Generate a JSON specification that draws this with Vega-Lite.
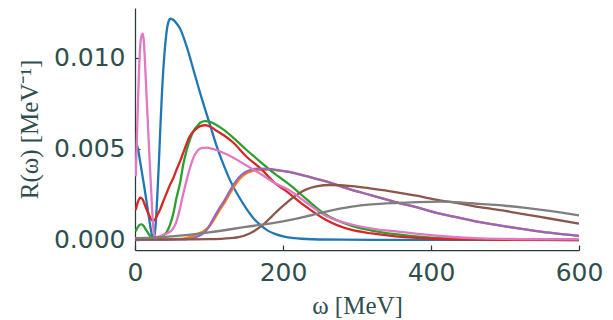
{
 "$schema": "https://vega.github.io/schema/vega-lite/v6.json",
 "width": 444, "height": 242,
 "autosize": "none",
 "padding": {"left": 135, "top": 8, "right": 34, "bottom": 70},
 "config": {"view": {"stroke": null}, "background": "white"},
 "data": {"values": [
  {"s":"a","w":2,"r":0.0053},{"s":"a","w":4,"r":0.0050},{"s":"a","w":7,"r":0.0043},{"s":"a","w":10,"r":0.00355},{"s":"a","w":13,"r":0.0028},{"s":"a","w":16,"r":0.0020},{"s":"a","w":19,"r":0.0012},{"s":"a","w":22,"r":0.00045},{"s":"a","w":24,"r":0.00012},{"s":"a","w":26,"r":0.0002},{"s":"a","w":28,"r":0.0009},{"s":"a","w":30,"r":0.0023},{"s":"a","w":32,"r":0.0040},{"s":"a","w":34,"r":0.0059},{"s":"a","w":36,"r":0.0077},{"s":"a","w":39,"r":0.0098},{"s":"a","w":42,"r":0.0112},{"s":"a","w":45,"r":0.01195},{"s":"a","w":48,"r":0.01215},{"s":"a","w":52,"r":0.01208},{"s":"a","w":56,"r":0.0119},{"s":"a","w":61,"r":0.0116},{"s":"a","w":70,"r":0.0106},{"s":"a","w":80,"r":0.0092},{"s":"a","w":90,"r":0.0078},{"s":"a","w":100,"r":0.0065},{"s":"a","w":110,"r":0.0052},{"s":"a","w":120,"r":0.0041},{"s":"a","w":130,"r":0.00315},{"s":"a","w":140,"r":0.0024},{"s":"a","w":150,"r":0.00175},{"s":"a","w":160,"r":0.0012},{"s":"a","w":170,"r":0.0008},{"s":"a","w":180,"r":0.0005},{"s":"a","w":190,"r":0.00032},{"s":"a","w":200,"r":0.0002},{"s":"a","w":215,"r":0.0001},{"s":"a","w":240,"r":0.00004},{"s":"a","w":280,"r":0.000015},{"s":"a","w":350,"r":0.000005},{"s":"a","w":600,"r":0},
  {"s":"b","w":0,"r":0.00002},{"s":"b","w":40,"r":0.00003},{"s":"b","w":60,"r":0.00006},{"s":"b","w":70,"r":0.00012},{"s":"b","w":80,"r":0.00024},{"s":"b","w":90,"r":0.00042},{"s":"b","w":100,"r":0.00072},{"s":"b","w":108,"r":0.0012},{"s":"b","w":115,"r":0.00168},{"s":"b","w":122,"r":0.00212},{"s":"b","w":128,"r":0.00255},{"s":"b","w":135,"r":0.003},{"s":"b","w":142,"r":0.00338},{"s":"b","w":149,"r":0.00362},{"s":"b","w":158,"r":0.00378},{"s":"b","w":167,"r":0.00384},{"s":"b","w":180,"r":0.00386},{"s":"b","w":195,"r":0.00381},{"s":"b","w":210,"r":0.00373},{"s":"b","w":230,"r":0.00352},{"s":"b","w":257,"r":0.00323},{"s":"b","w":293,"r":0.00275},{"s":"b","w":320,"r":0.00245},{"s":"b","w":352,"r":0.00208},{"s":"b","w":380,"r":0.0018},{"s":"b","w":412,"r":0.00145},{"s":"b","w":440,"r":0.0012},{"s":"b","w":466,"r":0.00098},{"s":"b","w":500,"r":0.00075},{"s":"b","w":525,"r":0.0006},{"s":"b","w":560,"r":0.0004},{"s":"b","w":600,"r":0.00022},
  {"s":"c","w":1,"r":0.00048},{"s":"c","w":4,"r":0.00072},{"s":"c","w":7,"r":0.00085},{"s":"c","w":9,"r":0.00086},{"s":"c","w":12,"r":0.00075},{"s":"c","w":15,"r":0.00055},{"s":"c","w":19,"r":0.0003},{"s":"c","w":23,"r":0.00012},{"s":"c","w":27,"r":0.00005},{"s":"c","w":31,"r":0.00006},{"s":"c","w":35,"r":0.00012},{"s":"c","w":39,"r":0.00025},{"s":"c","w":43,"r":0.00045},{"s":"c","w":47,"r":0.0008},{"s":"c","w":52,"r":0.0015},{"s":"c","w":56,"r":0.0023},{"s":"c","w":61,"r":0.00315},{"s":"c","w":65,"r":0.0041},{"s":"c","w":70,"r":0.00497},{"s":"c","w":75,"r":0.0056},{"s":"c","w":79,"r":0.00598},{"s":"c","w":84,"r":0.00625},{"s":"c","w":88,"r":0.00644},{"s":"c","w":95,"r":0.00653},{"s":"c","w":102,"r":0.00648},{"s":"c","w":110,"r":0.00632},{"s":"c","w":120,"r":0.00605},{"s":"c","w":133,"r":0.00561},{"s":"c","w":150,"r":0.00497},{"s":"c","w":171,"r":0.00424},{"s":"c","w":190,"r":0.0036},{"s":"c","w":203,"r":0.00322},{"s":"c","w":210,"r":0.003},{"s":"c","w":230,"r":0.0023},{"s":"c","w":257,"r":0.00141},{"s":"c","w":293,"r":0.00078},{"s":"c","w":320,"r":0.00052},{"s":"c","w":352,"r":0.00032},{"s":"c","w":400,"r":0.00013},{"s":"c","w":450,"r":0.00005},{"s":"c","w":500,"r":0.00002},{"s":"c","w":600,"r":0.00001},
  {"s":"d","w":1,"r":0.00165},{"s":"d","w":4,"r":0.0021},{"s":"d","w":7,"r":0.00232},{"s":"d","w":10,"r":0.00225},{"s":"d","w":14,"r":0.00185},{"s":"d","w":18,"r":0.00145},{"s":"d","w":21,"r":0.0012},{"s":"d","w":24,"r":0.00105},{"s":"d","w":27,"r":0.00112},{"s":"d","w":30,"r":0.00135},{"s":"d","w":34,"r":0.00168},{"s":"d","w":38,"r":0.0021},{"s":"d","w":43,"r":0.0026},{"s":"d","w":47,"r":0.003},{"s":"d","w":52,"r":0.00342},{"s":"d","w":56,"r":0.00385},{"s":"d","w":61,"r":0.00433},{"s":"d","w":68,"r":0.0051},{"s":"d","w":74,"r":0.0057},{"s":"d","w":80,"r":0.006},{"s":"d","w":88,"r":0.00625},{"s":"d","w":95,"r":0.0063},{"s":"d","w":102,"r":0.00622},{"s":"d","w":110,"r":0.006},{"s":"d","w":120,"r":0.00575},{"s":"d","w":133,"r":0.00534},{"s":"d","w":150,"r":0.0046},{"s":"d","w":171,"r":0.00388},{"s":"d","w":190,"r":0.0031},{"s":"d","w":203,"r":0.00272},{"s":"d","w":210,"r":0.0025},{"s":"d","w":230,"r":0.00186},{"s":"d","w":257,"r":0.00113},{"s":"d","w":293,"r":0.00055},{"s":"d","w":320,"r":0.00036},{"s":"d","w":352,"r":0.0002},{"s":"d","w":400,"r":0.00008},{"s":"d","w":450,"r":0.00003},{"s":"d","w":500,"r":0.00001},{"s":"d","w":600,"r":0},
  {"s":"e","w":0,"r":0.00001},{"s":"e","w":40,"r":0.00001},{"s":"e","w":60,"r":0.00003},{"s":"e","w":70,"r":0.00005},{"s":"e","w":80,"r":0.00012},{"s":"e","w":90,"r":0.0003},{"s":"e","w":95,"r":0.00045},{"s":"e","w":100,"r":0.00075},{"s":"e","w":108,"r":0.00132},{"s":"e","w":115,"r":0.0018},{"s":"e","w":122,"r":0.00225},{"s":"e","w":128,"r":0.00268},{"s":"e","w":135,"r":0.00315},{"s":"e","w":142,"r":0.0035},{"s":"e","w":149,"r":0.00372},{"s":"e","w":158,"r":0.00387},{"s":"e","w":167,"r":0.00392},{"s":"e","w":180,"r":0.0039},{"s":"e","w":195,"r":0.00382},{"s":"e","w":210,"r":0.00373},{"s":"e","w":230,"r":0.00352},{"s":"e","w":257,"r":0.00323},{"s":"e","w":293,"r":0.00275},{"s":"e","w":320,"r":0.00245},{"s":"e","w":352,"r":0.00208},{"s":"e","w":380,"r":0.0018},{"s":"e","w":412,"r":0.00145},{"s":"e","w":440,"r":0.0012},{"s":"e","w":466,"r":0.00098},{"s":"e","w":500,"r":0.00075},{"s":"e","w":525,"r":0.0006},{"s":"e","w":560,"r":0.0004},{"s":"e","w":600,"r":0.00022},
  {"s":"f","w":0,"r":0.00003},{"s":"f","w":60,"r":0.00003},{"s":"f","w":100,"r":0.00005},{"s":"f","w":120,"r":0.00008},{"s":"f","w":140,"r":0.00016},{"s":"f","w":155,"r":0.00036},{"s":"f","w":171,"r":0.00077},{"s":"f","w":185,"r":0.0013},{"s":"f","w":195,"r":0.0017},{"s":"f","w":203,"r":0.00198},{"s":"f","w":210,"r":0.00222},{"s":"f","w":220,"r":0.00252},{"s":"f","w":230,"r":0.00275},{"s":"f","w":245,"r":0.00295},{"s":"f","w":264,"r":0.00302},{"s":"f","w":293,"r":0.00296},{"s":"f","w":320,"r":0.00282},{"s":"f","w":352,"r":0.00263},{"s":"f","w":380,"r":0.00243},{"s":"f","w":412,"r":0.00218},{"s":"f","w":440,"r":0.002},{"s":"f","w":466,"r":0.0018},{"s":"f","w":500,"r":0.0016},{"s":"f","w":525,"r":0.00142},{"s":"f","w":560,"r":0.00118},{"s":"f","w":600,"r":0.0009},
  {"s":"g","w":1,"r":0.0035},{"s":"g","w":3,"r":0.0062},{"s":"g","w":5,"r":0.0088},{"s":"g","w":7,"r":0.0106},{"s":"g","w":9,"r":0.01125},{"s":"g","w":10.5,"r":0.01133},{"s":"g","w":12,"r":0.0109},{"s":"g","w":14,"r":0.0093},{"s":"g","w":16,"r":0.0076},{"s":"g","w":18,"r":0.0059},{"s":"g","w":20,"r":0.0042},{"s":"g","w":22,"r":0.0026},{"s":"g","w":24,"r":0.0011},{"s":"g","w":26,"r":0.00025},{"s":"g","w":28,"r":0.00015},{"s":"g","w":32,"r":0.00018},{"s":"g","w":38,"r":0.00028},{"s":"g","w":45,"r":0.0004},{"s":"g","w":50,"r":0.00055},{"s":"g","w":55,"r":0.0009},{"s":"g","w":60,"r":0.0016},{"s":"g","w":65,"r":0.0025},{"s":"g","w":70,"r":0.00333},{"s":"g","w":75,"r":0.00405},{"s":"g","w":79,"r":0.00452},{"s":"g","w":84,"r":0.00488},{"s":"g","w":90,"r":0.00505},{"s":"g","w":97,"r":0.00507},{"s":"g","w":105,"r":0.005},{"s":"g","w":120,"r":0.00478},{"s":"g","w":133,"r":0.00452},{"s":"g","w":150,"r":0.0041},{"s":"g","w":171,"r":0.0036},{"s":"g","w":190,"r":0.0031},{"s":"g","w":203,"r":0.00285},{"s":"g","w":210,"r":0.00269},{"s":"g","w":230,"r":0.0021},{"s":"g","w":257,"r":0.00135},{"s":"g","w":293,"r":0.00085},{"s":"g","w":320,"r":0.00063},{"s":"g","w":358,"r":0.00045},{"s":"g","w":412,"r":0.00022},{"s":"g","w":466,"r":0.00009},{"s":"g","w":520,"r":0.00005},{"s":"g","w":600,"r":0.00003},
  {"s":"h","w":0,"r":0.0001},{"s":"h","w":50,"r":0.0002},{"s":"h","w":100,"r":0.00042},{"s":"h","w":150,"r":0.00072},{"s":"h","w":200,"r":0.00102},{"s":"h","w":230,"r":0.00128},{"s":"h","w":257,"r":0.00155},{"s":"h","w":293,"r":0.00183},{"s":"h","w":320,"r":0.00195},{"s":"h","w":352,"r":0.00203},{"s":"h","w":380,"r":0.00208},{"s":"h","w":412,"r":0.00211},{"s":"h","w":440,"r":0.00207},{"s":"h","w":466,"r":0.00198},{"s":"h","w":500,"r":0.00188},{"s":"h","w":525,"r":0.00178},{"s":"h","w":560,"r":0.0016},{"s":"h","w":600,"r":0.00135}
 ]},
 "mark": {"type": "line", "strokeWidth": 2.3, "interpolate": "monotone", "clip": true},
 "encoding": {
  "x": {"field": "w", "type": "quantitative",
   "scale": {"domain": [0, 600], "nice": false, "zero": false},
   "axis": {"values": [0, 200, 400, 600], "grid": false, "title": "ω [MeV]",
    "domainColor": "#2a3a3a", "domainWidth": 1.25, "tickColor": "#2a3a3a", "tickSize": -5, "tickWidth": 1.25,
    "labelFont": "DejaVu Sans", "labelFontSize": 25, "labelColor": "#2f4f4f", "labelPadding": 15, "labelFlush": false,
    "titleFont": "Liberation Serif", "titleFontSize": 25, "titleFontWeight": "normal", "titleColor": "#2f4f4f",
    "titleX": 222, "titleY": 63, "titleBaseline": "alphabetic", "titleAlign": "center"}},
  "y": {"field": "r", "type": "quantitative",
   "scale": {"domain": [-0.00055, 0.01274], "nice": false, "zero": false},
   "axis": {"values": [0, 0.005, 0.01], "format": ".3f", "grid": false, "title": "R(ω) [MeV⁻¹]",
    "domainColor": "#2a3a3a", "domainWidth": 1.25, "tickColor": "#2a3a3a", "tickSize": -5, "tickWidth": 1.25,
    "labelFont": "DejaVu Sans", "labelFontSize": 25, "labelColor": "#2f4f4f", "labelPadding": 15, "labelFlush": false,
    "titleFont": "Liberation Serif", "titleFontSize": 25, "titleFontWeight": "normal", "titleColor": "#2f4f4f",
    "titleX": -98, "titleY": 121, "titleAngle": -90, "titleBaseline": "alphabetic", "titleAlign": "center"}},
  "color": {"field": "s", "type": "nominal", "legend": null,
   "scale": {"domain": ["a","b","c","d","e","f","g","h"],
    "range": ["#1f77b4","#ff7f0e","#2ca02c","#d62728","#9467bd","#8c564b","#e377c2","#7f7f7f"]}}
 }
}
